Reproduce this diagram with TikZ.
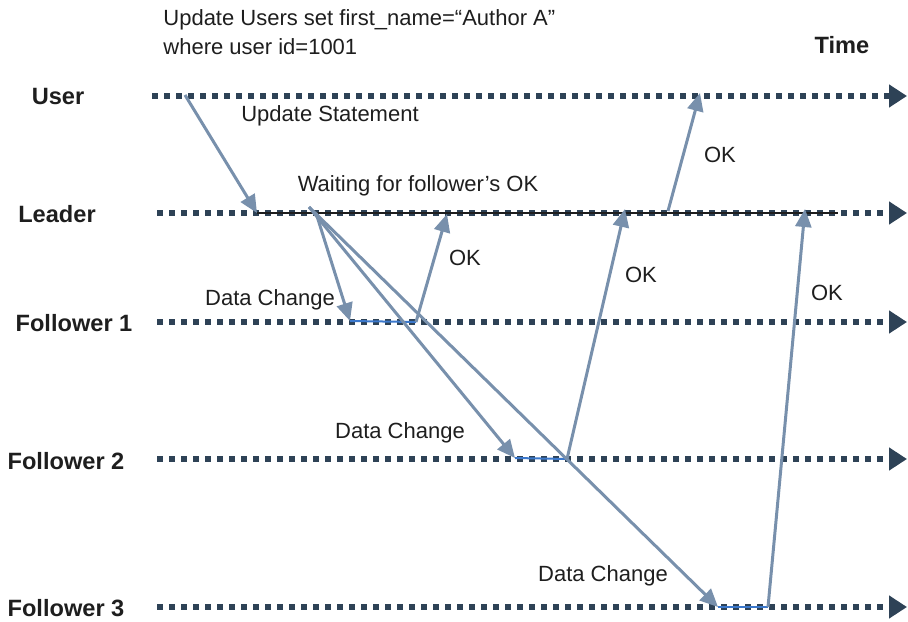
\documentclass[tikz,border=0pt]{standalone}
\usepackage{fontspec}
\setmainfont{Liberation Sans}
\usetikzlibrary{arrows.meta}
\definecolor{lanecol}{HTML}{2E4256}
\definecolor{msgcol}{HTML}{7890AC}
\definecolor{busycol}{HTML}{3B78CC}
\definecolor{txtcol}{HTML}{1E1E1E}
\begin{document}
\begin{tikzpicture}[x=0.5pt,y=-0.5pt,
  lane/.style={draw=lanecol,line width=3.3pt,dash pattern=on 3pt off 3pt,
    -{Triangle[length=9pt,width=11pt,fill=lanecol]}},
  msg/.style={draw=msgcol,line width=1.5pt,-{Triangle[length=9pt,width=8pt]}},
  msgline/.style={draw=msgcol,line width=1.5pt},
  busy/.style={draw=busycol,line width=1pt},
  actor/.style={font=\fontsize{11.8}{14}\selectfont\bfseries,text=txtcol,inner sep=0pt},
  note/.style={font=\fontsize{11}{13}\selectfont,text=txtcol,inner sep=0pt}]
\useasboundingbox (0,0) rectangle (908,621);

% time lines
\coordinate (us) at (152,96);  \coordinate (ue) at (907,96);
\coordinate (ls) at (157,213); \coordinate (le) at (907,213);
\coordinate (f1s) at (157,322); \coordinate (f1e) at (907,322);
\coordinate (f2s) at (157,459); \coordinate (f2e) at (907,459);
\coordinate (f3s) at (157,607); \coordinate (f3e) at (907,607);
\draw[lane] (us) -- (ue);
\draw[lane] (ls) -- (le);
\draw[lane] (f1s) -- (f1e);
\draw[lane] (f2s) -- (f2e);
\draw[lane] (f3s) -- (f3e);

% leader busy span
\coordinate (lb1) at (257,213); \coordinate (lb2) at (838,213);
\draw[txtcol,line width=0.9pt] (lb1) -- (lb2);

% actors
\node[actor] (uname) at (58,96) {User};
\node[actor] (lname) at (57,214) {Leader};
\node[actor] (f1name) at (74,323) {Follower 1};
\node[actor] (f2name) at (66,461) {Follower 2};
\node[actor] (f3name) at (66,608) {Follower 3};
\node[actor] (time) at (842,45) {Time};

% statement text
\node[note,anchor=west] (sql1) at (163,20) {Update Users set first\_name=“Author A”};
\node[note,anchor=west] (sql2) at (163,47) {where user id=1001};

% message points
\coordinate (u0) at (185,95);
\coordinate (l0) at (257,213);
\coordinate (lsend) at (309,207);
\coordinate (lsend1) at (316,213);
\coordinate (a1) at (350,321);
\coordinate (b1) at (416,322);
\coordinate (a2) at (515,458);
\coordinate (b2) at (567,459);
\coordinate (a3) at (718,607);
\coordinate (b3) at (768,607);
\coordinate (lok1) at (447,214);
\coordinate (lok2) at (625,209);
\coordinate (lok3) at (805,209);
\coordinate (lrep) at (668,211);
\coordinate (uok) at (700,93);

% follower busy spans
\draw[busy] (a1) -- (b1);
\draw[busy] (a2) -- (b2);
\draw[busy] (a3) -- (b3);

% messages
\draw[msg] (u0) -- (l0);
\draw[msg] (lsend1) -- (a1);
\draw[msg] (lsend) -- (a2);
\draw[msg] (lsend) -- (a3);
\draw[msg] (b1) -- (lok1);
\draw[msg] (b2) -- (lok2);
\draw[msg] (b3) -- (lok3);
\draw[msg] (lrep) -- (uok);

% labels
\node[note] (ust) at (330,116) {Update Statement};
\node[note] (wait) at (418,186) {Waiting for follower’s OK};
\node[note] (ok0) at (720,155) {OK};
\node[note] (ok1) at (465,258) {OK};
\node[note] (ok2) at (641,275) {OK};
\node[note] (ok3) at (827,293) {OK};
\node[note] (dc1) at (270,300) {Data Change};
\node[note] (dc2) at (400,433) {Data Change};
\node[note] (dc3) at (603,576) {Data Change};
\end{tikzpicture}
\end{document}
